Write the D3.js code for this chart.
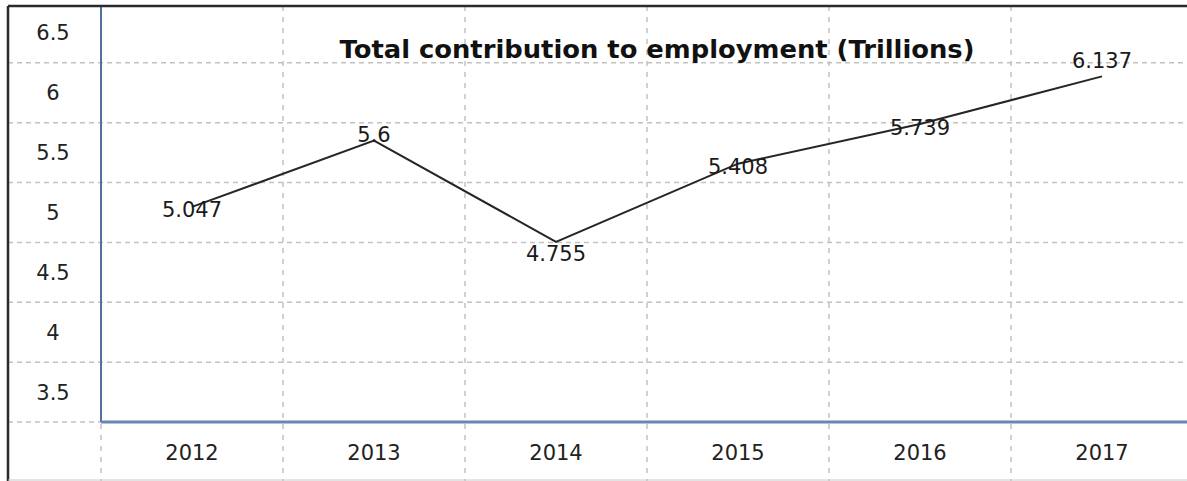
<!DOCTYPE html>
<html>
<head>
<meta charset="utf-8">
<script src="https://cdn.jsdelivr.net/npm/d3@7"></script>
<style>
html,body{margin:0;padding:0;background:#fff;}
svg{display:block;}
</style>
</head>
<body>
<svg id="chart" width="1187" height="481"></svg>
<script>
const years = ["2012","2013","2014","2015","2016","2017"];
const values = [5.047, 5.6, 4.755, 5.408, 5.739, 6.137];
const valueLabels = ["5.047","5.6","4.755","5.408","5.739","6.137"];
const yTicks = [6.5, 6, 5.5, 5, 4.5, 4, 3.5];
const yTickLabels = ["6.5","6","5.5","5","4.5","4","3.5"];
const yGrid = [6.25, 5.75, 5.25, 4.75, 4.25, 3.75, 3.25];
const title = "Total contribution to employment (Trillions)";

const W = 1187, H = 481;
const frameL = 8, frameT = 6;
const plotL = 101, plotB = 422;
const svg = d3.select("#chart");

const x = d3.scaleBand().domain(years).range([plotL, plotL + 182 * years.length]).padding(0);
const y = d3.scaleLinear().domain([3.25, 6.75]).range([plotB, 3]);

// horizontal dashed gridlines (extend across label column)
svg.append("g").selectAll("line").data(yGrid).join("line")
  .attr("x1", frameL).attr("x2", W)
  .attr("y1", d => y(d)).attr("y2", d => y(d))
  .attr("stroke", "#c2c2c2").attr("stroke-width", 1.5)
  .attr("stroke-dasharray", "5,4");

// vertical dashed gridlines at band boundaries
svg.append("g").selectAll("line").data(years).join("line")
  .attr("x1", d => x(d)).attr("x2", d => x(d))
  .attr("y1", frameT).attr("y2", H)
  .attr("stroke", "#c2c2c2").attr("stroke-width", 1.5)
  .attr("stroke-dasharray", "5,6");

// axes lines
svg.append("line").attr("x1", plotL).attr("x2", plotL).attr("y1", frameT).attr("y2", plotB)
  .attr("stroke", "#5470a0").attr("stroke-width", 2);
svg.append("line").attr("x1", plotL).attr("x2", W).attr("y1", plotB).attr("y2", plotB)
  .attr("stroke", "#6a86b4").attr("stroke-width", 3);

// frame
svg.append("line").attr("x1", frameL).attr("x2", W).attr("y1", frameT).attr("y2", frameT)
  .attr("stroke", "#2a2a2a").attr("stroke-width", 2.5);
svg.append("line").attr("x1", frameL).attr("x2", frameL).attr("y1", frameT).attr("y2", H)
  .attr("stroke", "#2a2a2a").attr("stroke-width", 2.5);
svg.append("line").attr("x1", frameL).attr("x2", W).attr("y1", H - 1).attr("y2", H - 1)
  .attr("stroke", "#c8c8c8").attr("stroke-width", 1);

// y tick labels
svg.append("g").selectAll("text").data(yTicks).join("text")
  .attr("x", 53).attr("y", d => y(d)).attr("dy", "0.36em")
  .attr("text-anchor", "middle")
  .attr("font-family", "DejaVu Sans, Verdana, sans-serif").attr("font-size", 21)
  .attr("fill", "#222")
  .text((d, i) => yTickLabels[i]);

// x tick labels
svg.append("g").selectAll("text").data(years).join("text")
  .attr("x", d => x(d) + x.bandwidth() / 2).attr("y", 452).attr("dy", "0.36em")
  .attr("text-anchor", "middle")
  .attr("font-family", "DejaVu Sans, Verdana, sans-serif").attr("font-size", 21)
  .attr("fill", "#222")
  .text(d => d);

// line
const line = d3.line()
  .x((d, i) => x(years[i]) + x.bandwidth() / 2)
  .y(d => y(d));
svg.append("path").datum(values).attr("d", line)
  .attr("fill", "none").attr("stroke", "#262626").attr("stroke-width", 2);

// data labels: peaks above, troughs below, others centred on the point
function labelOffset(i) {
  const v = values[i];
  const prev = i > 0 ? values[i - 1] : -Infinity;
  const next = i < values.length - 1 ? values[i + 1] : -Infinity;
  if (i === values.length - 1) return -16;
  if (v > prev && v > next) return -6;
  if (i > 0 && v < values[i - 1] && v < values[i + 1]) return 12;
  return 3;
}
svg.append("g").selectAll("text").data(values).join("text")
  .attr("x", (d, i) => x(years[i]) + x.bandwidth() / 2)
  .attr("y", (d, i) => y(d) + labelOffset(i))
  .attr("dy", "0.36em")
  .attr("text-anchor", "middle")
  .attr("font-family", "DejaVu Sans, Verdana, sans-serif").attr("font-size", 21)
  .attr("fill", "#1a1a1a")
  .text((d, i) => valueLabels[i]);

// title
svg.append("text")
  .attr("x", 657).attr("y", 58)
  .attr("text-anchor", "middle")
  .attr("font-family", "DejaVu Sans, Verdana, sans-serif").attr("font-weight", "bold")
  .attr("font-size", 24)
  .attr("textLength", 635).attr("lengthAdjust", "spacingAndGlyphs")
  .attr("fill", "#111")
  .text(title);
</script>
</body>
</html>
